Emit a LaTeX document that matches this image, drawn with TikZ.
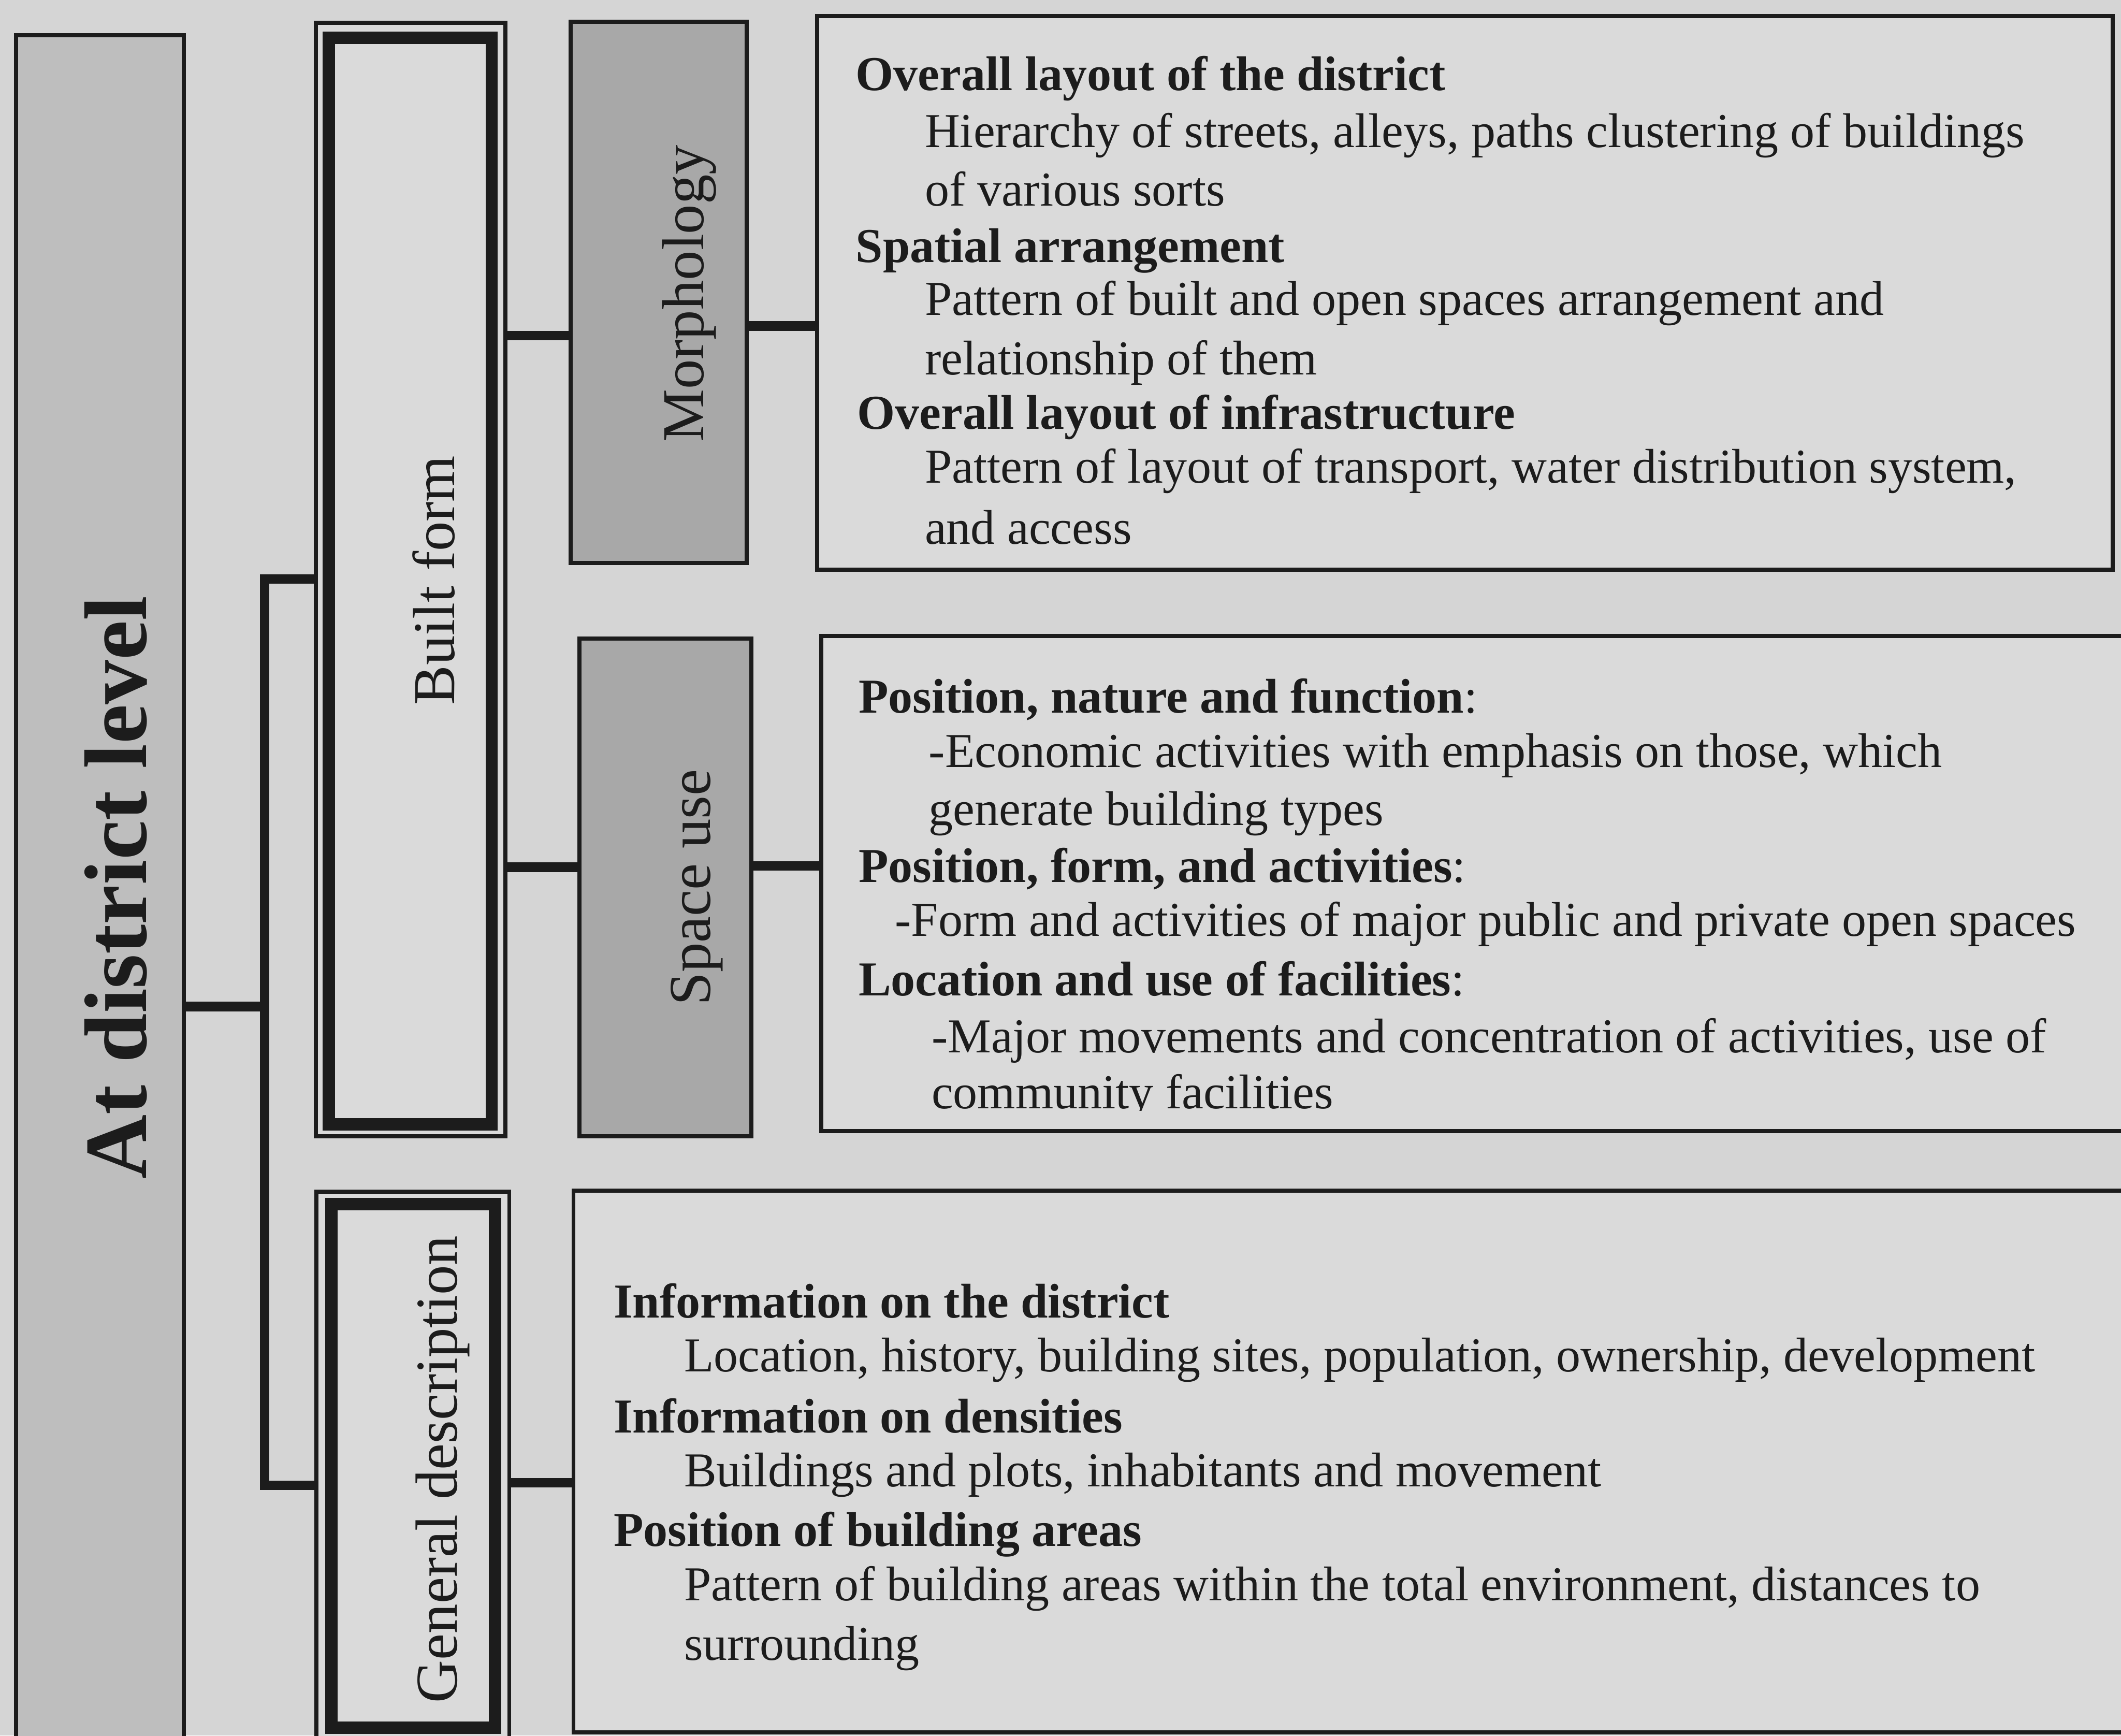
\documentclass[tikz,border=0pt]{standalone}
\usepackage{fontspec}
\setmainfont{Liberation Serif}
\usetikzlibrary{fit}
\definecolor{bgc}{RGB}{213,213,213}
\definecolor{boxc}{RGB}{218,218,218}
\definecolor{hatchA}{RGB}{190,190,190}
\definecolor{hatchB}{RGB}{168,168,168}
\definecolor{ink}{RGB}{28,28,28}
\begin{document}
\begin{tikzpicture}[x=0.01cm,y=-0.01cm,
  thinbox/.style={draw=ink, line width=0.85pt, inner sep=0pt},
  thickbox/.style={draw=ink, line width=2.6pt, inner sep=0pt},
  conn/.style={draw=ink, line width=2pt},
  body/.style={anchor=base west, inner sep=0pt, text=ink, font=\fontsize{10.24pt}{12pt}\selectfont},
  head/.style={body, font=\fontsize{10.24pt}{12pt}\selectfont\bfseries},
  lbl/.style={anchor=base, rotate=90, inner sep=0pt, text=ink, font=\fontsize{12.5pt}{15pt}\selectfont}]
\useasboundingbox (0,0) rectangle (1568,1283);
\fill[bgc] (0,0) rectangle (1568,1283);
\begin{scope}
\clip (0,0) rectangle (1568,1283);
% boxes
\node[thinbox, fill=hatchA, fit={(12,26) (136,1320)}] (district) {};
\node[thinbox, fill=boxc, fit={(233.5,17) (373.5,840)}] (bfo) {};
\node[thickbox, fit={(243,28) (363.5,831)}] (bfi) {};
\node[thinbox, fill=hatchB, fit={(422,16) (552,416)}] (morph) {};
\node[thinbox, fill=boxc, fit={(604,12) (1562,421)}] (morphtxt) {};
\node[thinbox, fill=hatchB, fit={(428.5,472) (555.5,840)}] (space) {};
\node[thinbox, fill=boxc, fit={(607,470) (1620,836)}] (spacetxt) {};
\node[thinbox, fill=boxc, fit={(234,881) (376.5,1320)}] (gdo) {};
\node[thickbox, fit={(245,890) (366,1277)}] (gdi) {};
\node[thinbox, fill=boxc, fit={(424,880) (1620,1280.5)}] (gdtxt) {};
% connectors
\coordinate (jA) at (195.5,744);
\coordinate (jB) at (195.5,428);
\coordinate (jC) at (195.5,1098);
\draw[conn] (district.east |- jA) -- (jA);
\draw[conn] (bfo.west |- jB) -- (jB) -- (jC) -- (gdo.west |- jC);
\coordinate (m1) at (0,248);
\coordinate (m2) at (0,241);
\coordinate (s1) at (0,641);
\coordinate (s2) at (0,640);
\coordinate (g1) at (0,1096);
\draw[conn] (bfo.east |- m1) -- (morph.west |- m1);
\draw[conn] (morph.east |- m2) -- (morphtxt.west |- m2);
\draw[conn] (bfo.east |- s1) -- (space.west |- s1);
\draw[conn] (space.east |- s2) -- (spacetxt.west |- s2);
\draw[conn] (gdo.east |- g1) -- (gdtxt.west |- g1);
% vertical labels
\node[lbl, font=\fontsize{18.7pt}{22pt}\selectfont\bfseries] (tdist) at (108,656) {At district level};
\node[lbl] (tbf) at (336,429) {Built form};
\node[lbl] (tmorph) at (520,217) {Morphology};
\node[lbl] (tspace) at (525,656) {Space use};
\node[lbl] (tgd) at (338,1086) {General description};
% morphology text
\node[head] (a1) at (632,67) {Overall layout of the district};
\node[body] (a2) at (683,109) {Hierarchy of streets, alleys, paths clustering of buildings};
\node[body] (a3) at (683,152) {of various sorts};
\node[head] (a4) at (632,194) {Spatial arrangement};
\node[body] (a5) at (683,233) {Pattern of built and open spaces arrangement and};
\node[body] (a6) at (683,277) {relationship of them};
\node[head] (a7) at (633,317) {Overall layout of infrastructure};
\node[body] (a8) at (683,357) {Pattern of layout of transport, water distribution system,};
\node[body] (a9) at (683,402) {and access};
% space use text
\node[head] (b1) at (634,527) {Position, nature and function\mdseries:};
\node[body] (b2) at (686,567) {-Economic activities with emphasis on those, which};
\node[body] (b3) at (686,610) {generate building types};
\node[head] (b4) at (634,652) {Position, form, and activities\mdseries:};
\node[body] (b5) at (661,692) {-Form and activities of major public and private open spaces};
\node[head] (b6) at (634,736) {Location and use of facilities\mdseries:};
\node[body] (b7) at (688,778) {-Major movements and concentration of activities, use of};
\begin{scope}
\clip (600,470) rectangle (1568,821);
\node[body] (b8) at (688,819.5) {community facilities};
\end{scope}
% general description text
\node[head] (c1) at (453,974) {Information on the district};
\node[body] (c2) at (505,1014) {Location, history, building sites, population, ownership, development};
\node[head] (c3) at (453,1059) {Information on densities};
\node[body] (c4) at (505,1099) {Buildings and plots, inhabitants and movement};
\node[head] (c5) at (453,1143) {Position of building areas};
\node[body] (c6) at (505,1183) {Pattern of building areas within the total environment, distances to};
\node[body] (c7) at (505,1227) {surrounding};
\end{scope}
\end{tikzpicture}
\end{document}
